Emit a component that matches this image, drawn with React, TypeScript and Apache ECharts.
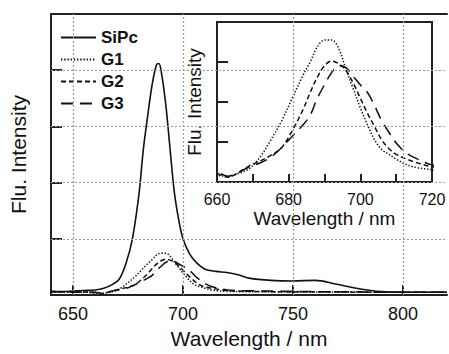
import React, { useEffect, useRef } from "react";
import * as echarts from "echarts";

// SiPc spectrum (main panel)
const sipcWavelengths = [640, 645, 650, 655, 660, 664, 668, 671, 674, 677, 680, 682, 684, 686, 688, 689, 690, 692, 694, 696, 698, 700, 703, 706, 710, 715, 720, 725, 730, 740, 750, 760, 770, 780, 790, 800, 810, 820];
const sipcValues = [0.07, 0.06, 0.07, 0.08, 0.09, 0.12, 0.19, 0.28, 0.55, 1.0, 1.8, 2.6, 3.2, 3.75, 4.1, 4.12, 4.0, 3.45, 2.65, 1.85, 1.35, 1.0, 0.73, 0.58, 0.46, 0.42, 0.4, 0.36, 0.3, 0.26, 0.25, 0.26, 0.19, 0.11, 0.06, 0.05, 0.05, 0.05];

// G1-G3 spectra (shared by main panel and inset)
const gWavelengths = [640, 645, 650, 655, 660, 663, 666, 669, 672, 675, 678, 681, 684, 686, 688, 690, 692, 694, 696, 698, 700, 702, 704, 706, 708, 710, 713, 716, 720, 725, 730, 740, 750, 760, 770, 780, 790, 800, 810, 820];
const g1Values = [0.05, 0.05, 0.05, 0.05, 0.035, 0.03, 0.045, 0.07, 0.13, 0.22, 0.32, 0.44, 0.56, 0.63, 0.71, 0.745, 0.745, 0.7, 0.59, 0.49, 0.39, 0.3, 0.22, 0.17, 0.145, 0.12, 0.09, 0.075, 0.065, 0.06, 0.06, 0.055, 0.055, 0.05, 0.05, 0.05, 0.05, 0.05, 0.05, 0.05];
const g2Values = [0.06, 0.06, 0.06, 0.055, 0.045, 0.025, 0.05, 0.085, 0.11, 0.14, 0.18, 0.27, 0.38, 0.47, 0.55, 0.61, 0.635, 0.62, 0.585, 0.52, 0.44, 0.36, 0.29, 0.22, 0.175, 0.145, 0.12, 0.1, 0.08, 0.07, 0.065, 0.06, 0.055, 0.06, 0.055, 0.05, 0.05, 0.05, 0.05, 0.05];
const g3Values = [0.06, 0.06, 0.05, 0.05, 0.05, 0.03, 0.05, 0.08, 0.1, 0.13, 0.18, 0.24, 0.3, 0.35, 0.44, 0.51, 0.575, 0.61, 0.6, 0.555, 0.51, 0.47, 0.4, 0.32, 0.26, 0.205, 0.15, 0.12, 0.09, 0.08, 0.075, 0.07, 0.065, 0.06, 0.06, 0.055, 0.05, 0.05, 0.05, 0.05];

const seriesNames = ["SiPc", "G1", "G2", "G3"];
const mainXTicks = [650, 700, 750, 800];
const mainYTicks = [1, 2, 3, 4];

const FONT = "Liberation Sans, Arial, Helvetica, sans-serif";
const INK = "#111";
const AXIS = "#222";
const GRIDC = "#9a9a9a";

const pairs = (xs: number[], ys: number[]) => xs.map((x, i) => [x, ys[i]]);

export default function App() {
  const ref = useRef<HTMLDivElement>(null);
  useEffect(() => {
    if (!ref.current) return;
    const chart = echarts.init(ref.current, null, { renderer: "svg" });
    const styles: any = {
      SiPc: { type: "solid", width: 1.6 },
      G1: { type: [1.4, 1.8], width: 1.5 },
      G2: { type: [5, 3], width: 1.5 },
      G3: { type: [12, 7], width: 1.5 },
    };
    const gData: any = {
      G1: pairs(gWavelengths, g1Values),
      G2: pairs(gWavelengths, g2Values),
      G3: pairs(gWavelengths, g3Values),
    };
    const mk = (name: string, data: any, xi: number, yi: number) => ({
      name,
      type: "line",
      xAxisIndex: xi,
      yAxisIndex: yi,
      data,
      symbol: "none",
      smooth: 0.35,
      clip: true,
      lineStyle: { color: INK, ...styles[name] },
      itemStyle: { color: INK },
    });
    const gridLine = { color: GRIDC, type: [2, 2], width: 1.2, opacity: 1 };
    // helper series (no data) carrying the dotted grid lines of the main panel
    const gridSeries: any = {
      name: "grid",
      type: "line",
      xAxisIndex: 0,
      yAxisIndex: 0,
      data: [],
      symbol: "none",
      z: 1,
      markLine: {
        silent: true,
        symbol: ["none", "none"],
        label: { show: false },
        lineStyle: gridLine,
        emphasis: { disabled: true },
        data: [
          ...mainXTicks.map((v) => [{ coord: [v, 0] }, { coord: [v, 5] }]),
          ...mainYTicks.map((v) => [{ coord: [640, v] }, { coord: [820, v] }]),
        ],
      },
    };
    const option: any = {
      animation: false,
      textStyle: { fontFamily: FONT },
      legend: {
        data: seriesNames,
        orient: "vertical",
        left: 60,
        top: 29,
        padding: 0,
        itemWidth: 35,
        itemHeight: 14,
        itemGap: 5,
        itemStyle: { opacity: 0 },
        textStyle: { fontSize: 17, fontWeight: "bold", color: INK, fontFamily: FONT, lineHeight: 17 },
      },
      grid: [
        { left: 51, top: 14, right: 2, bottom: 56 },
        { left: 217, top: 22, width: 215, height: 160, show: true, borderColor: AXIS, borderWidth: 2, backgroundColor: "transparent" },
      ],
      xAxis: [
        {
          gridIndex: 0,
          type: "value",
          min: 640,
          max: 820,
          axisLine: { show: true, lineStyle: { color: AXIS, width: 2 } },
          axisTick: { show: true, inside: true, length: 10, lineStyle: { color: AXIS, width: 2 }, customValues: mainXTicks },
          axisLabel: { customValues: mainXTicks, fontSize: 18, margin: 10, color: INK, fontFamily: FONT },
          splitLine: { show: false },
          name: "Wavelength / nm",
          nameLocation: "middle",
          nameGap: 33,
          nameTextStyle: { fontSize: 21, color: INK, fontFamily: FONT },
        },
        {
          gridIndex: 0,
          type: "value",
          position: "top",
          min: 640,
          max: 820,
          axisLine: { show: true, lineStyle: { color: AXIS, width: 2 } },
          axisTick: { show: false },
          axisLabel: { show: false },
          splitLine: { show: false },
        },
        {
          gridIndex: 1,
          type: "value",
          min: 660,
          max: 720,
          interval: 10,
          axisLine: { show: true, lineStyle: { color: AXIS, width: 2 } },
          axisTick: { show: true, inside: true, length: 8, lineStyle: { color: AXIS, width: 2 } },
          axisLabel: {
            fontSize: 16,
            margin: 9,
            color: INK,
            fontFamily: FONT,
            formatter: (v: number) => (Math.round(v) % 20 === 0 ? String(Math.round(v)) : ""),
          },
          splitLine: { show: false },
          name: "Wavelength / nm",
          nameLocation: "middle",
          nameGap: 27,
          nameTextStyle: { fontSize: 19, color: INK, fontFamily: FONT },
        },
      ],
      yAxis: [
        {
          gridIndex: 0,
          type: "value",
          min: 0,
          max: 5,
          interval: 1,
          axisLine: { show: true, lineStyle: { color: AXIS, width: 2 } },
          axisTick: { show: true, inside: true, length: 11, lineStyle: { color: AXIS, width: 2 } },
          axisLabel: { show: false },
          splitLine: { show: false },
          name: "Flu. Intensity",
          nameLocation: "middle",
          nameGap: 22,
          nameTextStyle: { fontSize: 21, color: INK, fontFamily: FONT },
        },
        {
          gridIndex: 1,
          type: "value",
          min: 0,
          max: 0.84,
          interval: 0.21,
          axisLine: { show: true, lineStyle: { color: AXIS, width: 2 } },
          axisTick: { show: true, inside: true, length: 11, lineStyle: { color: AXIS, width: 2 } },
          axisLabel: { show: false },
          splitLine: { show: false },
          name: "Flu. Intensity",
          nameLocation: "middle",
          nameGap: 13,
          nameTextStyle: { fontSize: 19, color: INK, fontFamily: FONT },
        },
      ],
      series: [
        gridSeries,
        mk("SiPc", pairs(sipcWavelengths, sipcValues), 0, 0),
        mk("G1", gData.G1, 0, 0),
        mk("G2", gData.G2, 0, 0),
        mk("G3", gData.G3, 0, 0),
        mk("G1", gData.G1, 2, 1),
        mk("G2", gData.G2, 2, 1),
        mk("G3", gData.G3, 2, 1),
      ],
    };
    chart.setOption(option);
    return () => chart.dispose();
  }, []);
  return (
    <div
      ref={ref}
      style={{ position: "absolute", left: 0, top: 0, width: 449, height: 354, background: "#fff" }}
    />
  );
}
